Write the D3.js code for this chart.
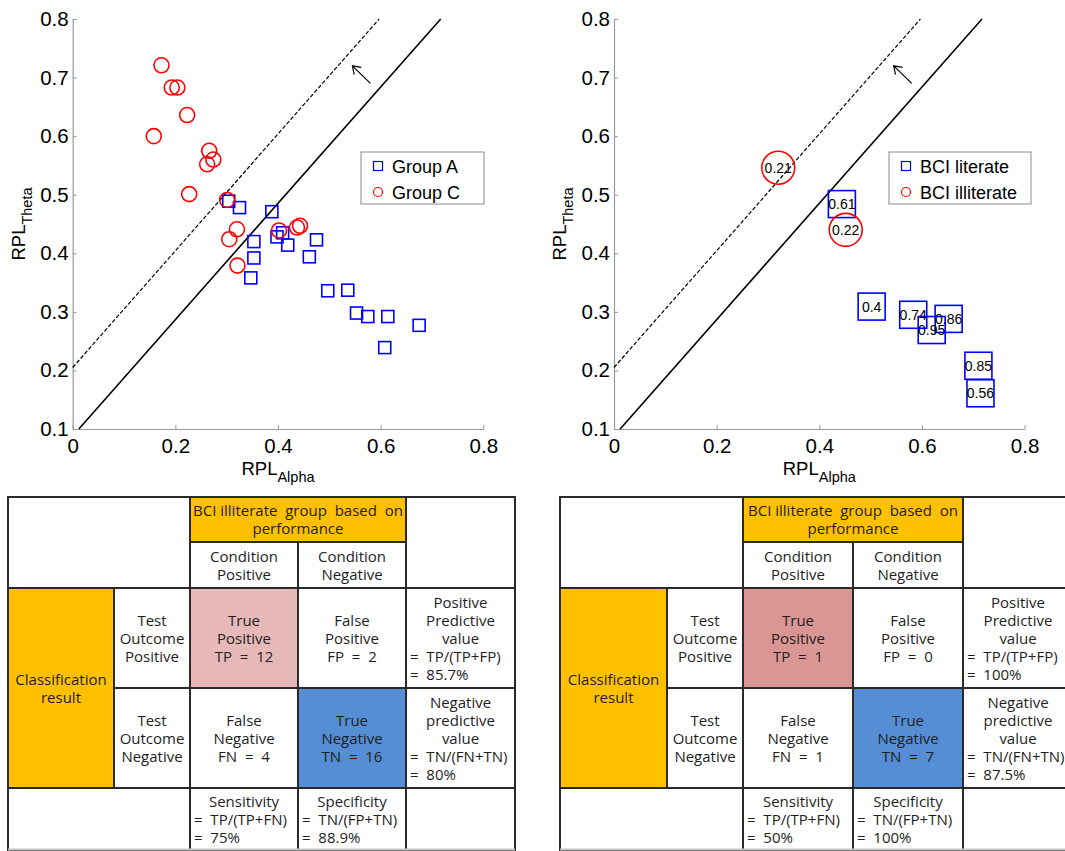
<!DOCTYPE html>
<html><head><meta charset="utf-8">
<script src="https://cdn.jsdelivr.net/npm/d3@7"></script>
<style>body{margin:0;background:#fff;overflow:hidden} svg{display:block}</style>
</head><body>
<svg id="c" width="1065" height="851"></svg>
<script>
// ---------- data ----------
const xTicks = [0, 0.2, 0.4, 0.6, 0.8];
const yTicks = [0.1, 0.2, 0.3, 0.4, 0.5, 0.6, 0.7, 0.8];

// Left panel
const groupA_x = [0.304,0.325,0.388,0.398,0.409,0.419,0.353,0.353,0.347,0.475,0.461,0.497,0.536,0.553,0.575,0.614,0.675,0.608];
const groupA_y = [0.489,0.478,0.471,0.428,0.435,0.414,0.420,0.392,0.358,0.423,0.394,0.336,0.337,0.298,0.292,0.292,0.277,0.239];
const groupC_x = [0.173,0.193,0.204,0.223,0.158,0.266,0.274,0.262,0.227,0.301,0.320,0.305,0.321,0.402,0.437,0.443];
const groupC_y = [0.721,0.683,0.683,0.636,0.600,0.575,0.560,0.552,0.501,0.491,0.441,0.424,0.379,0.439,0.444,0.447];

// Right panel
const literate_x   = [0.444,0.502,0.583,0.652,0.619,0.710,0.714];
const literate_y   = [0.484,0.309,0.295,0.288,0.269,0.208,0.161];
const literate_lab = ["0.61","0.4","0.74","0.86","0.95","0.85","0.56"];
const illiterate_x   = [0.320,0.4515];
const illiterate_y   = [0.546,0.440];
const illiterate_lab = ["0.21","0.22"];

// reference lines
const solidLine_x = [0.012, 0.717], solidLine_y = [0.1, 0.8];
const dashLine_x  = [0, 0.597],     dashLine_y  = [0.205, 0.8];
const arrow_x = [0.58, 0.545], arrow_y = [0.69, 0.72];

// tables
const confusionLeft  = [12, 2, 4, 16];          // TP, FP, FN, TN
const ratesLeft      = ["85.7%", "80%", "75%", "88.9%"]; // PPV, NPV, Sens, Spec
const confusionRight = [1, 0, 1, 7];
const ratesRight     = ["100%", "87.5%", "50%", "100%"];

// ---------- drawing ----------
const svg = d3.select("#c");
svg.append("rect").attr("width",1065).attr("height",851).attr("fill","#fff");
const PF = "'Liberation Sans', Arial, sans-serif";

function drawPlot(ox, legendX, legendW, legendLabels, sq, ci, sqSize, ciR, labels) {
  const g = svg.append("g");
  const x = d3.scaleLinear().domain([0,0.8]).range([ox, ox+410.6]);
  const y = d3.scaleLinear().domain([0.1,0.8]).range([429,19]);

  const ax = g.append("g").attr("transform","translate(0,429)")
    .call(d3.axisBottom(x).tickValues(xTicks).tickFormat(d=>String(d)).tickSizeInner(-4).tickSizeOuter(0).tickPadding(9));
  const ay = g.append("g").attr("transform",`translate(${ox},0)`)
    .call(d3.axisLeft(y).tickValues(yTicks).tickFormat(d=>String(d)).tickSizeInner(-4).tickSizeOuter(0).tickPadding(4));
  [ax, ay].forEach(a=>{
    a.select(".domain").attr("stroke","#9a9a9a").attr("stroke-width",1.2);
    a.selectAll(".tick line").attr("stroke","#9a9a9a");
    a.selectAll(".tick text").attr("fill","#000").style("font-family",PF).style("font-size","20.5px");
  });

  // reference lines
  const line = d3.line().x(d=>x(d[0])).y(d=>y(d[1]));
  g.append("path").attr("d", line(d3.zip(solidLine_x, solidLine_y)))
    .attr("stroke","#000").attr("stroke-width",1.6).attr("fill","none");
  g.append("path").attr("d", line(d3.zip(dashLine_x, dashLine_y)))
    .attr("stroke","#000").attr("stroke-width",1.2).attr("stroke-dasharray","4,2").attr("fill","none");
  // arrow
  const x1=x(arrow_x[0]), y1=y(arrow_y[0]), x2=x(arrow_x[1]), y2=y(arrow_y[1]);
  const ang = Math.atan2(y1-y2, x1-x2), L=9, sp=0.6;
  g.append("path")
    .attr("d",`M${x1},${y1}L${x2},${y2}M${x2+L*Math.cos(ang+sp)},${y2+L*Math.sin(ang+sp)}L${x2},${y2}L${x2+L*Math.cos(ang-sp)},${y2+L*Math.sin(ang-sp)}`)
    .attr("stroke","#000").attr("stroke-width",1.2).attr("fill","none");

  // markers
  const sqData = d3.zip(sq[0], sq[1]);
  g.selectAll(null).data(sqData).join("rect")
    .attr("x",d=>x(d[0])-sqSize/2).attr("y",d=>y(d[1])-sqSize/2)
    .attr("width",sqSize).attr("height",sqSize)
    .attr("fill","none").attr("stroke","#0000ff").attr("stroke-width",1.6);
  const ciData = d3.zip(ci[0], ci[1]);
  g.selectAll(null).data(ciData).join("circle")
    .attr("cx",d=>x(d[0])).attr("cy",d=>y(d[1])).attr("r",ciR)
    .attr("fill","none").attr("stroke","#ff0000").attr("stroke-width",1.6);
  if (labels) {
    const all = d3.zip(sq[0], sq[1], labels[0]).concat(d3.zip(ci[0], ci[1], labels[1]));
    g.selectAll(null).data(all).join("text")
      .attr("x",d=>x(d[0])).attr("y",d=>y(d[1])+5)
      .attr("text-anchor","middle").style("font-family",PF).style("font-size","14px")
      .text(d=>d[2]);
  }

  // axis titles
  const xt = g.append("text").attr("x", ox+205.3).attr("y",475).attr("text-anchor","middle").style("font-family",PF);
  xt.append("tspan").style("font-size","18.5px").text("RPL");
  xt.append("tspan").style("font-size","14.5px").attr("dy",7).text("Alpha");
  const yt = g.append("text").attr("transform",`translate(${ox-47.7},224) rotate(-90)`).attr("text-anchor","middle").style("font-family",PF);
  yt.append("tspan").style("font-size","18.5px").text("RPL");
  yt.append("tspan").style("font-size","14.5px").attr("dy",7).text("Theta");

  // legend
  g.append("rect").attr("x",legendX).attr("y",152).attr("width",legendW).attr("height",52)
    .attr("fill","#fff").attr("stroke","#8a8a8a").attr("stroke-width",1);
  g.append("rect").attr("x",legendX+12.5).attr("y",161.5).attr("width",9).attr("height",9)
    .attr("fill","none").attr("stroke","#0000ff").attr("stroke-width",1.2);
  g.append("circle").attr("cx",legendX+17).attr("cy",192).attr("r",4.5)
    .attr("fill","none").attr("stroke","#ff0000").attr("stroke-width",1.2);
  g.selectAll(null).data(legendLabels).join("text")
    .attr("x",legendX+31).attr("y",(d,i)=>172.5+i*26)
    .style("font-family",PF).style("font-size","18px").text(d=>d);
}

drawPlot(72.7, 361, 123, ["Group A","Group C"], [groupA_x,groupA_y], [groupC_x,groupC_y], 12, 7.5, null);
drawPlot(614, 889, 142, ["BCI literate","BCI illiterate"], [literate_x,literate_y], [illiterate_x,illiterate_y], 27, 16.5, [literate_lab, illiterate_lab]);

// ---------- tables ----------
const TF = "'Open Sans', 'Noto Sans', sans-serif";
const rowEdges = [497, 542, 588, 688, 788, 851];
function drawTable(xe, conf, rates, tpColor) {
  const g = svg.append("g");
  const C = (c)=>({t:c, a:"c"}), Lf=(c)=>({t:c, a:"l"});
  const cells = [
    {c:[0,2], r:[0,2], fill:"#fff", lines:[]},
    {c:[2,4], r:[0,1], fill:"#FFC000", lines:[C("BCI illiterate  group  based  on"), C("performance")]},
    {c:[4,5], r:[0,2], fill:"#fff", lines:[]},
    {c:[2,3], r:[1,2], fill:"#fff", lines:[C("Condition"), C("Positive")]},
    {c:[3,4], r:[1,2], fill:"#fff", lines:[C("Condition"), C("Negative")]},
    {c:[0,1], r:[2,4], fill:"#FFC000", lines:[C("Classification"), C("result")]},
    {c:[1,2], r:[2,3], fill:"#fff", lines:[C("Test"), C("Outcome"), C("Positive")]},
    {c:[2,3], r:[2,3], fill:tpColor, lines:[C("True"), C("Positive"), C("TP  =  " + conf[0])]},
    {c:[3,4], r:[2,3], fill:"#fff", lines:[C("False"), C("Positive"), C("FP  =  " + conf[1])]},
    {c:[4,5], r:[2,3], fill:"#fff", lines:[C("Positive"), C("Predictive"), C("value"), Lf("=  TP/(TP+FP)"), Lf("=  " + rates[0])]},
    {c:[1,2], r:[3,4], fill:"#fff", lines:[C("Test"), C("Outcome"), C("Negative")]},
    {c:[2,3], r:[3,4], fill:"#fff", lines:[C("False"), C("Negative"), C("FN  =  " + conf[2])]},
    {c:[3,4], r:[3,4], fill:"#558ED5", lines:[C("True"), C("Negative"), C("TN  =  " + conf[3])]},
    {c:[4,5], r:[3,4], fill:"#fff", lines:[C("Negative"), C("predictive"), C("value"), Lf("=  TN/(FN+TN)"), Lf("=  " + rates[1])]},
    {c:[0,2], r:[4,5], fill:"#fff", lines:[]},
    {c:[2,3], r:[4,5], fill:"#fff", lines:[C("Sensitivity"), Lf("=  TP/(TP+FN)"), Lf("=  " + rates[2])]},
    {c:[3,4], r:[4,5], fill:"#fff", lines:[C("Specificity"), Lf("=  TN/(FP+TN)"), Lf("=  " + rates[3])]},
    {c:[4,5], r:[4,5], fill:"#fff", lines:[]},
  ];
  cells.forEach(cell=>{
    const x0=xe[cell.c[0]], x1=xe[cell.c[1]], y0=rowEdges[cell.r[0]], y1=rowEdges[cell.r[1]];
    g.append("rect").attr("x",x0).attr("y",y0).attr("width",x1-x0).attr("height",y1-y0)
      .attr("fill",cell.fill).attr("stroke","#2a2a2a").attr("stroke-width",2);
    const cy=(y0+y1)/2, n=cell.lines.length;
    cell.lines.forEach((ln,i)=>{
      g.append("text")
        .attr("x", ln.a==="c" ? (x0+x1)/2 : x0+4)
        .attr("y", cy + (i-(n-1)/2)*18 + 5.5)
        .attr("text-anchor", ln.a==="c" ? "middle" : "start")
        .style("font-family",TF).style("font-size","15px").style("white-space","pre")
        .attr("fill","#1e1e1e")
        .text(ln.t);
    });
  });
  g.append("line").attr("x1",xe[0]).attr("x2",xe[5]).attr("y1",849.5).attr("y2",849.5)
    .attr("stroke","#c8c8c8").attr("stroke-width",2);
}
drawTable([8,114,190,298,406,515], confusionLeft, ratesLeft, "#E6B8B7");
drawTable([560,667,743,853,963,1073], confusionRight, ratesRight, "#DA9694");
</script>
</body></html>
